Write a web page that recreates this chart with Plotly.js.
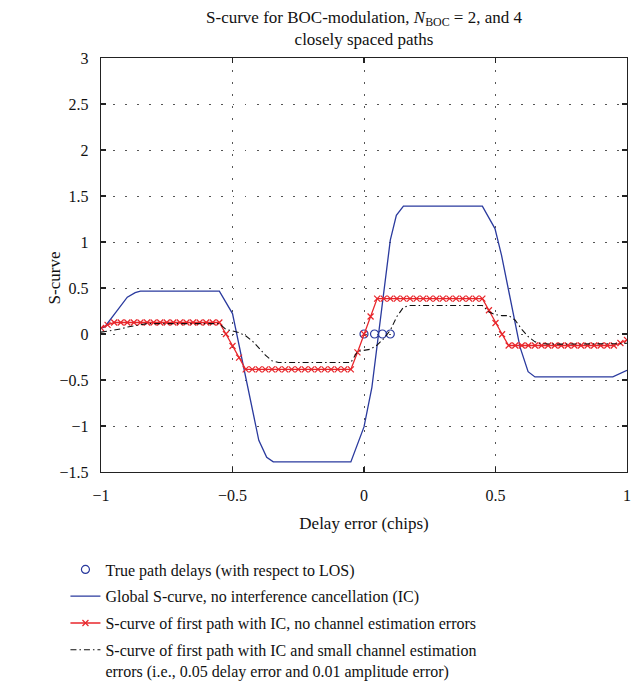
<!DOCTYPE html>
<html>
<head>
<meta charset="utf-8">
<script src="https://cdn.plot.ly/plotly-3.0.1.min.js"></script>
<style>html,body{margin:0;padding:0;background:#fff;}#chart{width:641px;height:691px;}</style>
</head>
<body>
<div id="chart"></div>
<script>
// True path delays (chips)
const pathDelays = [0, 0.04, 0.07, 0.1];
const pathLevel = [0, 0, 0, 0];

// Global S-curve, no IC (line vertices)
const globalX = [-1, -0.985, -0.9, -0.87, -0.85, -0.55, -0.5, -0.4, -0.37, -0.345, -0.05, 0.0, 0.03, 0.1, 0.123, 0.15, 0.45, 0.498, 0.523, 0.593, 0.624, 0.65, 0.946, 1.0];
const globalY = [0.06, 0.08, 0.40, 0.45, 0.465, 0.465, 0.222, -1.155, -1.34, -1.39, -1.39, -1.01, -0.58, 1.02, 1.29, 1.39, 1.39, 1.146, 0.855, -0.14, -0.41, -0.467, -0.467, -0.395];

// Delay error grid for the first-path curves
const delayErr = [-1, -0.975, -0.95, -0.925, -0.9, -0.875, -0.85, -0.825, -0.8, -0.775,
  -0.75, -0.725, -0.7, -0.675, -0.65, -0.625, -0.6, -0.575, -0.55, -0.525,
  -0.5, -0.475, -0.45, -0.425, -0.4, -0.375, -0.35, -0.325, -0.3, -0.275,
  -0.25, -0.225, -0.2, -0.175, -0.15, -0.125, -0.1, -0.075, -0.05, -0.025,
  0, 0.025, 0.05, 0.075, 0.1, 0.125, 0.15, 0.175, 0.2, 0.225,
  0.25, 0.275, 0.3, 0.325, 0.35, 0.375, 0.4, 0.425, 0.45, 0.475,
  0.5, 0.525, 0.55, 0.575, 0.6, 0.625, 0.65, 0.675, 0.7, 0.725,
  0.75, 0.775, 0.8, 0.825, 0.85, 0.875, 0.9, 0.925, 0.95, 0.975, 1];

// S-curve of first path with IC, no channel estimation errors
const icExact = [0.065, 0.10, 0.125, 0.125, 0.125, 0.125, 0.125, 0.125, 0.125, 0.125,
  0.125, 0.125, 0.125, 0.125, 0.125, 0.125, 0.125, 0.125, 0.125, 0.0,
  -0.13, -0.257, -0.385, -0.385, -0.385, -0.385, -0.385, -0.385, -0.385, -0.385,
  -0.385, -0.385, -0.385, -0.385, -0.385, -0.385, -0.385, -0.385, -0.385, -0.2,
  0.0, 0.19, 0.385, 0.385, 0.385, 0.385, 0.385, 0.385, 0.385, 0.385,
  0.385, 0.385, 0.385, 0.385, 0.385, 0.385, 0.385, 0.385, 0.385, 0.258,
  0.12, -0.003, -0.125, -0.125, -0.125, -0.125, -0.125, -0.125, -0.125, -0.125,
  -0.125, -0.125, -0.125, -0.125, -0.125, -0.125, -0.125, -0.125, -0.125, -0.098, -0.065];

// S-curve of first path with IC and small channel estimation errors
const icErr = [0.02, 0.03, 0.04, 0.055, 0.075, 0.09, 0.105, 0.113, 0.113, 0.113,
  0.113, 0.113, 0.113, 0.113, 0.113, 0.113, 0.113, 0.113, 0.113, 0.05,
  0.03, 0.015, -0.02, -0.075, -0.15, -0.23, -0.29, -0.31, -0.31, -0.31,
  -0.31, -0.31, -0.31, -0.31, -0.31, -0.31, -0.31, -0.31, -0.31, -0.19,
  -0.175, -0.165, -0.12, -0.05, 0.04, 0.19, 0.29, 0.31, 0.31, 0.31,
  0.31, 0.31, 0.31, 0.31, 0.31, 0.31, 0.31, 0.31, 0.31, 0.24,
  0.21, 0.2, 0.2, 0.15, 0.05, -0.03, -0.085, -0.105, -0.11, -0.11,
  -0.11, -0.11, -0.11, -0.11, -0.11, -0.11, -0.11, -0.11, -0.11, -0.105, -0.1];

const xTicks = [-1, -0.5, 0, 0.5, 1];
const xTickText = ['\u22121', '\u22120.5', '0', '0.5', '1'];
const yTicks = [-1.5, -1, -0.5, 0, 0.5, 1, 1.5, 2, 2.5, 3];
const yTickText = ['\u22121.5', '\u22121', '\u22120.5', '0', '0.5', '1', '1.5', '2', '2.5', '3'];

const FONT = 'Liberation Serif, Times New Roman, serif';
const BLUE = '#2a3a9e';
const RED = '#e8262b';

const traces = [
  {x: pathDelays, y: pathLevel, mode: 'markers', name: 'True path delays (with respect to LOS)',
   legendgroup: 'a',
   marker: {symbol: 'circle-open', size: 8, color: BLUE, line: {width: 1.2, color: BLUE}}},
  {x: globalX, y: globalY, mode: 'lines', name: 'Global S-curve, no interference cancellation (IC)',
   legendgroup: 'b',
   line: {color: BLUE, width: 1.3}},
  {x: delayErr, y: icExact, mode: 'lines+markers', name: 'S-curve of first path with IC, no channel estimation errors',
   legendgroup: 'c',
   line: {color: RED, width: 1.3},
   marker: {symbol: 'x-thin', size: 6, color: RED, line: {width: 1.2, color: RED}}},
  {x: delayErr, y: icErr, mode: 'lines', name: 'S-curve of first path with IC and small channel estimation<br>errors (i.e., 0.05 delay error and 0.01 amplitude error)',
   legendgroup: 'd',
   line: {color: '#111', width: 1.1, dash: '6px,3px,1.5px,3px'}}
];

const axisCommon = {
  showline: true, mirror: 'ticks', linecolor: '#222', linewidth: 1.3,
  ticks: 'inside', ticklen: 5, tickwidth: 1.3, tickcolor: '#222',
  showgrid: true, gridcolor: '#555', gridwidth: 1, griddash: '1.5px,10.5px',
  zeroline: false,
  tickfont: {family: FONT, size: 16, color: '#111'}
};

const layout = {
  width: 641, height: 691,
  margin: {l: 101, r: 14, t: 58, b: 219},
  paper_bgcolor: '#fff', plot_bgcolor: '#fff',
  font: {family: FONT, color: '#111'},
  title: {
    text: 'S-curve for BOC-modulation, <i>N</i><sub>BOC</sub> = 2, and 4<br>closely spaced paths',
    font: {family: FONT, size: 17, color: '#111'},
    x: 0.5, xref: 'paper', xanchor: 'center',
    y: 0.9673, yref: 'container', yanchor: 'top'
  },
  xaxis: Object.assign({}, axisCommon, {
    range: [-1, 1], tickvals: xTicks, ticktext: xTickText,
    ticklabelstandoff: 8,
    title: {text: 'Delay error (chips)', font: {family: FONT, size: 17, color: '#111'}, standoff: 14}
  }),
  yaxis: Object.assign({}, axisCommon, {
    range: [-1.5, 3], tickvals: yTicks, ticktext: yTickText,
    ticklabelstandoff: 8
  }),
  annotations: [{
    text: 'S-curve', textangle: -90, showarrow: false,
    xref: 'paper', x: -0.0894, xanchor: 'center',
    yref: 'paper', y: 0.47, yanchor: 'middle',
    font: {family: FONT, size: 17, color: '#111'}
  }],
  showlegend: true,
  legend: {
    x: -0.0676, xanchor: 'left', xref: 'paper',
    y: 0.2004, yanchor: 'top', yref: 'container',
    font: {family: FONT, size: 16, color: '#111'},
    bgcolor: 'rgba(0,0,0,0)', borderwidth: 0,
    tracegroupgap: 3, valign: 'top', traceorder: 'grouped'
  }
};

Plotly.newPlot('chart', traces, layout, {displayModeBar: false, staticPlot: true});
</script>
</body>
</html>
